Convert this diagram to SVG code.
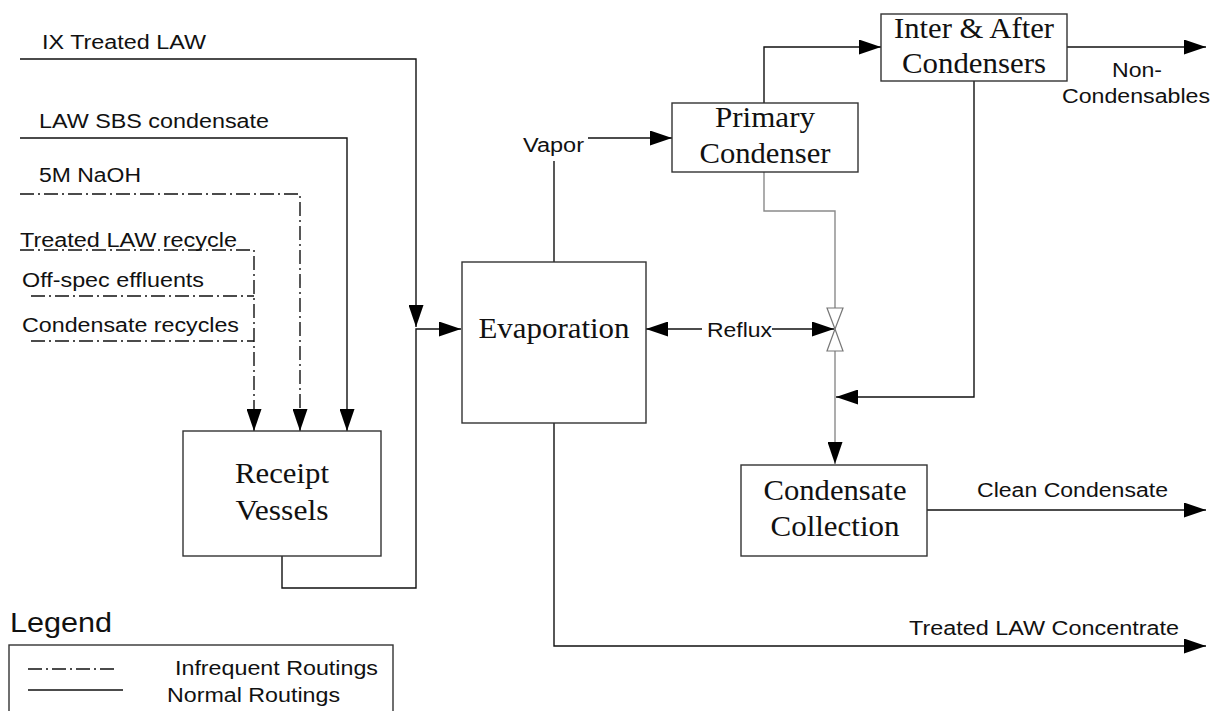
<svg xmlns="http://www.w3.org/2000/svg" width="1213" height="711" viewBox="0 0 1213 711">
  <style>
    .box { fill: #fff; stroke: #333; stroke-width: 1.4; }
    .node { font-family: "Liberation Serif", "Times New Roman", serif; font-size: 29px; fill: #111; text-anchor: middle; }
    .lbl { font-family: "Liberation Sans", Arial, sans-serif; font-size: 20px; fill: #111; }
    .ln { fill: none; stroke: #111; stroke-width: 1.4; }
    .dd { fill: none; stroke: #111; stroke-width: 1.4; stroke-dasharray: 14 4 2 4; }
    .gray { fill: none; stroke: #8a8a8a; stroke-width: 1.4; }
    .valve { fill: #fff; stroke: #777; stroke-width: 1.2; }
  </style>
  <defs>
    <marker id="arr" markerUnits="userSpaceOnUse" markerWidth="22" markerHeight="15" refX="22" refY="7.5" orient="auto" viewBox="0 0 22 15">
      <path d="M0,0 L22,7.5 L0,15 z" fill="#000"/>
    </marker>
  </defs>
  <rect width="1213" height="711" fill="#fff"/>

  <!-- flow lines -->
  <g id="connectors">
    <path class="ln" d="M20,59 H416 V327" marker-end="url(#arr)"/>
    <path class="ln" d="M282,556 V588 H416 V329 H461" marker-end="url(#arr)"/>
    <path class="ln" d="M20,138 H347 V431" marker-end="url(#arr)"/>
    <path class="dd" d="M20,194 H300 V431" marker-end="url(#arr)"/>
    <path class="dd" d="M20,250 H254 V431" marker-end="url(#arr)"/>
    <path class="dd" d="M31,296 H254"/>
    <path class="dd" d="M31,341 H254"/>
    <path class="ln" d="M554,262 V161"/>
    <path class="ln" d="M588,138 H672" marker-end="url(#arr)"/>
    <path class="ln" d="M764,103 V47 H881" marker-end="url(#arr)"/>
    <path class="ln" d="M1067,47 H1206" marker-end="url(#arr)"/>
    <path class="gray" d="M764,172 V211 H835 V308"/>
    <path class="gray" d="M835,351 V464" marker-end="url(#arr)"/>
    <path class="ln" d="M702,329 H646" marker-end="url(#arr)"/>
    <path class="ln" d="M772,329 H834" marker-end="url(#arr)"/>
    <path class="ln" d="M974,81 V397 H836" marker-end="url(#arr)"/>
    <path class="ln" d="M927,510 H1206" marker-end="url(#arr)"/>
    <path class="ln" d="M554,423 V646 H1206" marker-end="url(#arr)"/>
    <!-- reflux valve -->
    <polygon class="valve" points="827,308 843,308 835,329"/>
    <polygon class="valve" points="835,329 827,351 843,351"/>
  </g>

  <!-- stream labels -->
  <g id="labels">
    <text class="lbl" x="42" y="49" textLength="164" lengthAdjust="spacingAndGlyphs">IX Treated LAW</text>
    <text class="lbl" x="39" y="128" textLength="230" lengthAdjust="spacingAndGlyphs">LAW SBS condensate</text>
    <text class="lbl" x="39" y="182" textLength="102" lengthAdjust="spacingAndGlyphs">5M NaOH</text>
    <text class="lbl" x="20" y="247" textLength="217" lengthAdjust="spacingAndGlyphs">Treated LAW recycle</text>
    <text class="lbl" x="22" y="287" textLength="182" lengthAdjust="spacingAndGlyphs">Off-spec effluents</text>
    <text class="lbl" x="22" y="332" textLength="217" lengthAdjust="spacingAndGlyphs">Condensate recycles</text>
    <text class="lbl" x="523" y="152" textLength="61" lengthAdjust="spacingAndGlyphs">Vapor</text>
    <text class="lbl" x="707" y="337" textLength="65" lengthAdjust="spacingAndGlyphs">Reflux</text>
    <text class="lbl" x="1112" y="77" textLength="50" lengthAdjust="spacingAndGlyphs">Non-</text>
    <text class="lbl" x="1062" y="103" textLength="148" lengthAdjust="spacingAndGlyphs">Condensables</text>
    <text class="lbl" x="977" y="497" textLength="191" lengthAdjust="spacingAndGlyphs">Clean Condensate</text>
    <text class="lbl" x="909" y="635" textLength="270" lengthAdjust="spacingAndGlyphs">Treated LAW Concentrate</text>
  </g>

  <g id="receipt-vessels">
    <rect class="box" x="183" y="431" width="198" height="125"/>
    <text class="node" x="282" y="483" textLength="94" lengthAdjust="spacingAndGlyphs">Receipt</text>
    <text class="node" x="282" y="520" textLength="93" lengthAdjust="spacingAndGlyphs">Vessels</text>
  </g>

  <g id="evaporation">
    <rect class="box" x="462" y="262" width="184" height="161"/>
    <text class="node" x="554" y="338" textLength="151" lengthAdjust="spacingAndGlyphs">Evaporation</text>
  </g>

  <g id="primary-condenser">
    <rect class="box" x="672" y="103" width="186" height="69"/>
    <text class="node" x="765" y="127" textLength="100" lengthAdjust="spacingAndGlyphs">Primary</text>
    <text class="node" x="765" y="163" textLength="131" lengthAdjust="spacingAndGlyphs">Condenser</text>
  </g>

  <g id="inter-after-condensers">
    <rect class="box" x="881" y="14" width="186" height="67"/>
    <text class="node" x="974" y="38" textLength="160" lengthAdjust="spacingAndGlyphs">Inter &amp; After</text>
    <text class="node" x="974" y="73" textLength="144" lengthAdjust="spacingAndGlyphs">Condensers</text>
  </g>

  <g id="condensate-collection">
    <rect class="box" x="741" y="465" width="186" height="91"/>
    <text class="node" x="835" y="500" textLength="143" lengthAdjust="spacingAndGlyphs">Condensate</text>
    <text class="node" x="835" y="536" textLength="129" lengthAdjust="spacingAndGlyphs">Collection</text>
  </g>

  <g id="legend">
    <text class="lbl" x="10" y="632" style="font-size:28px" textLength="102" lengthAdjust="spacingAndGlyphs">Legend</text>
    <rect class="box" x="9" y="645" width="384" height="80"/>
    <path class="dd" d="M28,669 H115"/>
    <path class="ln" d="M28,690 H123"/>
    <text class="lbl" x="175" y="675" textLength="203" lengthAdjust="spacingAndGlyphs">Infrequent Routings</text>
    <text class="lbl" x="167" y="702" textLength="173" lengthAdjust="spacingAndGlyphs">Normal Routings</text>
  </g>
</svg>
